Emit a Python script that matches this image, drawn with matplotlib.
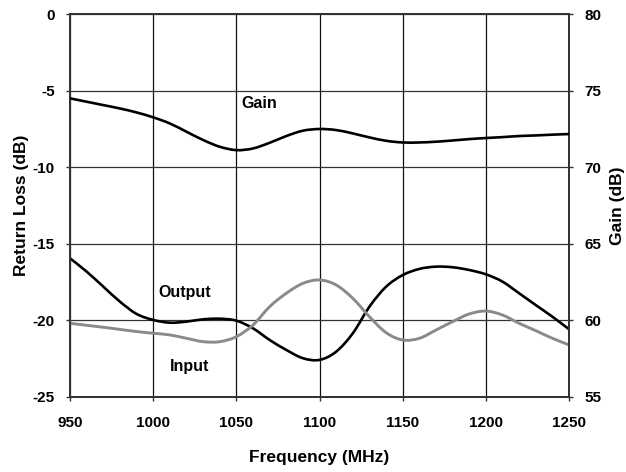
import matplotlib
matplotlib.use("Agg")
import matplotlib.pyplot as plt
from matplotlib.path import Path
from matplotlib.patches import PathPatch

freq = [950, 960, 970, 980, 990, 1000, 1010, 1020, 1030, 1040, 1050, 1060, 1070, 1080, 1090,
        1100, 1110, 1120, 1130, 1140, 1150, 1160, 1170, 1180, 1190, 1200, 1210, 1220, 1230, 1240, 1250]

output_rl = [-15.95, -16.82, -17.80, -18.78, -19.58, -19.97, -20.15, -20.08, -19.93, -19.89, -20.02,
             -20.52, -21.28, -21.93, -22.47, -22.58, -22.04, -20.84, -19.10, -17.80, -17.04, -16.64,
             -16.49, -16.53, -16.71, -16.99, -17.47, -18.23, -19.00, -19.76, -20.58]

input_rl = [-20.19, -20.32, -20.45, -20.59, -20.73, -20.84, -20.95, -21.17, -21.39, -21.39, -21.06,
            -20.30, -19.10, -18.23, -17.58, -17.36, -17.69, -18.56, -19.76, -20.80, -21.28, -21.17,
            -20.63, -20.08, -19.58, -19.39, -19.65, -20.19, -20.67, -21.17, -21.60]

gain = [74.50, 74.28, 74.06, 73.84, 73.58, 73.26, 72.86, 72.32, 71.78, 71.34, 71.12, 71.23, 71.60,
        72.04, 72.39, 72.50, 72.43, 72.21, 71.95, 71.73, 71.62, 71.62, 71.67, 71.75, 71.84, 71.91,
        71.97, 72.04, 72.08, 72.13, 72.17]

x_ticks = [950, 1000, 1050, 1100, 1150, 1200, 1250]
rl_ticks = [0, -5, -10, -15, -20, -25]
gain_ticks = [80, 75, 70, 65, 60, 55]

plt.rcParams['font.family'] = ['Liberation Sans', 'DejaVu Sans']
plt.rcParams['font.weight'] = 'bold'


def smooth_path(xs, ys):
    """Smoothed (Excel-like) line through the data points as cubic Bezier segments."""
    verts = [(xs[0], ys[0])]
    codes = [Path.MOVETO]
    n = len(xs)
    for i in range(n - 1):
        x0, y0 = (xs[i - 1], ys[i - 1]) if i > 0 else (xs[i], ys[i])
        x1, y1 = xs[i], ys[i]
        x2, y2 = xs[i + 1], ys[i + 1]
        x3, y3 = (xs[i + 2], ys[i + 2]) if i + 2 < n else (xs[i + 1], ys[i + 1])
        c1 = (x1 + (x2 - x0) / 6.0, y1 + (y2 - y0) / 6.0)
        c2 = (x2 - (x3 - x1) / 6.0, y2 - (y3 - y1) / 6.0)
        verts += [c1, c2, (x2, y2)]
        codes += [Path.CURVE4, Path.CURVE4, Path.CURVE4]
    return Path(verts, codes)


fig = plt.figure(figsize=(6.26, 4.72), dpi=100)
ax = fig.add_axes([0.112, 0.159, 0.797, 0.811])
ax2 = ax.twinx()

ax.set_xlim(950, 1250)
ax.set_ylim(-25, 0)
ax2.set_ylim(55, 80)
ax.set_xticks(x_ticks)
ax.set_yticks(rl_ticks)
ax2.set_yticks(gain_ticks)

ax.grid(True, axis='x', color='#111111', linewidth=0.9)
ax.grid(True, axis='y', color='#333333', linewidth=0.9)
ax.set_axisbelow(True)

ax.add_patch(PathPatch(smooth_path(freq, output_rl), fill=False, edgecolor='black',
                       linewidth=1.9, zorder=3, capstyle='round', joinstyle='round'))
ax.add_patch(PathPatch(smooth_path(freq, input_rl), fill=False, edgecolor='#8a8a8a',
                       linewidth=2.1, zorder=3, capstyle='round', joinstyle='round'))
ax2.add_patch(PathPatch(smooth_path(freq, gain), fill=False, edgecolor='black',
                        linewidth=1.9, zorder=3, capstyle='round', joinstyle='round'))

ax.text(1053, -5.85, 'Gain', fontsize=11.5, fontweight='bold', va='center', ha='left')
ax.text(1003, -18.2, 'Output', fontsize=11.5, fontweight='bold', va='center', ha='left')
ax.text(1010, -23.0, 'Input', fontsize=11.5, fontweight='bold', va='center', ha='left')

for a in (ax, ax2):
    for s in a.spines.values():
        s.set_color('#333333')
        s.set_linewidth(1.3)
ax.tick_params(axis='x', labelsize=11, length=3, width=1, color='#333333', pad=11)
ax.tick_params(axis='y', labelsize=11, length=3, width=1, color='#333333', pad=8)
ax2.tick_params(axis='y', labelsize=11, length=3, width=1, color='#333333', pad=8)

ax.set_xticklabels([str(v) for v in x_ticks], fontweight='bold')
ax.set_yticklabels([str(v) for v in rl_ticks], fontweight='bold')
ax2.set_yticklabels([str(v) for v in gain_ticks], fontweight='bold')

ax.set_xlabel('Frequency (MHz)', fontsize=12.5, fontweight='bold', labelpad=14)
ax.set_ylabel('Return Loss (dB)', fontsize=12.5, fontweight='bold', labelpad=3)
ax2.set_ylabel('Gain (dB)', fontsize=12.5, fontweight='bold', labelpad=6)

fig.savefig('out.png', dpi=100)
